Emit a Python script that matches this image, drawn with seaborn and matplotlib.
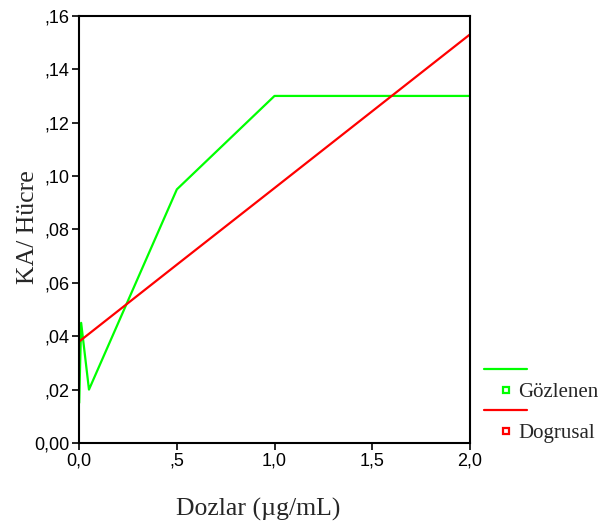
import pandas as pd
import matplotlib.pyplot as plt
import seaborn as sns
from matplotlib.lines import Line2D
from matplotlib.ticker import FuncFormatter

# data
doses = [0.0, 0.01, 0.05, 0.5, 1.0, 2.0]
observed = [0.015, 0.045, 0.020, 0.095, 0.130, 0.130]
linear = [0.038, 0.0386, 0.0409, 0.0668, 0.0955, 0.153]
series_names = ["Gözlenen", "Dogrusal"]
colors = ["#00ff00", "#ff0000"]

df = pd.DataFrame({
    "Dozlar": doses * 2,
    "KA": observed + linear,
    "seri": [series_names[0]] * len(doses) + [series_names[1]] * len(doses),
})

sns.set_style("ticks")
plt.rcParams["font.family"] = ["Liberation Sans", "DejaVu Sans"]

fig = plt.figure(figsize=(6, 5.28), dpi=100)
ax = fig.add_axes([0.132, 0.161, 0.651, 0.809])

sns.lineplot(data=df, x="Dozlar", y="KA", hue="seri", palette=colors,
             linewidth=1.6, legend=False, ax=ax)

ax.set_xlim(0, 2.0)
ax.set_ylim(0, 0.16)
ax.set_xticks([0, 0.5, 1.0, 1.5, 2.0])
ax.set_yticks([0, 0.02, 0.04, 0.06, 0.08, 0.10, 0.12, 0.14, 0.16])


def comma_fmt(v, pos, dec):
    s = f"{v:.{dec}f}".replace(".", ",")
    if s.startswith("0,") and v != 0:
        s = s[1:]
    return s


ax.xaxis.set_major_formatter(FuncFormatter(lambda v, p: comma_fmt(v, p, 1)))
ax.yaxis.set_major_formatter(FuncFormatter(lambda v, p: comma_fmt(v, p, 2)))
ax.tick_params(labelsize=13, length=5, width=1.2, pad=2,
               color="black", labelcolor="black")
for s in ax.spines.values():
    s.set_linewidth(1.5)
    s.set_color("black")

serif = ["Liberation Serif", "DejaVu Serif"]
ax.set_xlabel("Dozlar (µg/mL)", fontsize=18.5, family=serif)
ax.set_ylabel("KA/ Hücre", fontsize=18.5, family=serif)
ax.xaxis.set_label_coords(0.458, -0.128)
ax.yaxis.set_label_coords(-0.104, 0.506)

handles = []
labels = []
for name, c in zip(series_names, colors):
    handles.append(Line2D([], [], color=c, linewidth=1.6))
    labels.append("")
    handles.append(Line2D([], [], color=c, marker="s", linestyle="",
                          markersize=5, markerfacecolor="white",
                          markeredgewidth=1.6, markeredgecolor=c))
    labels.append(name)

fig.legend(handles, labels, loc="upper left", bbox_to_anchor=(0.776, 0.350),
           frameon=False, handlelength=2.07, handletextpad=-0.43,
           labelspacing=0.05, prop={"family": serif, "size": 15})

fig.savefig("out.png", dpi=100)
